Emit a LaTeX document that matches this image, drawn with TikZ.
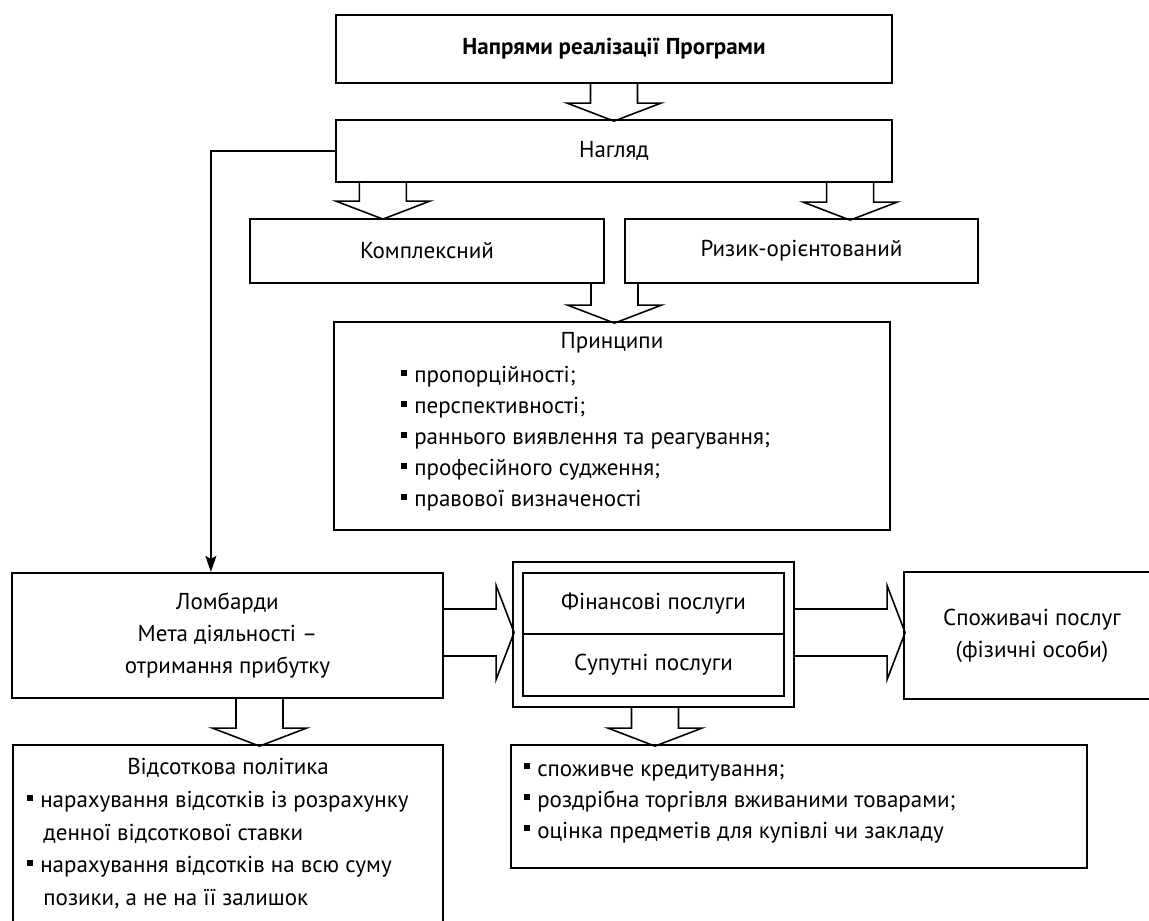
\documentclass[tikz,border=0pt]{standalone}
\usepackage{fontspec}
\setmainfont{PT Sans}
\usepackage{tikz}
\usetikzlibrary{arrows.meta, calc, positioning}

\newcommand{\sq}{\rule[0.3em]{0.26em}{0.26em}\hspace{0.3em}}

\begin{document}
\begin{tikzpicture}[x=0.5pt, y=-0.5pt,
    every node/.style = {font=\fontsize{11.5}{16}\selectfont},
    box/.style = {draw, line width=1.1pt, inner sep=0pt, align=center},
    fat/.style = {draw, line width=0.8pt, line join=miter},
    txt/.style = {inner sep=0pt, align=left},
    conn/.style = {line width=0.7pt, -{Stealth[length=8pt, width=5.5pt, inset=1.5pt]}},
    pics/fatarrow/.style = {code={
        \draw[fat] (0,-23.5) -- (#1-18,-23.5) -- (#1-18,-47) -- (#1,0)
                   -- (#1-18,47) -- (#1-18,23.5) -- (0,23.5);}}]
    \useasboundingbox (0,0) rectangle (1149,920);

    % top of the scheme
    \node[box, minimum width=278pt, minimum height=34pt,
          font=\fontsize{11.5}{16}\selectfont\bfseries] (prog) at (614,49) {Напрями реалізації Програми};
    \node[box, minimum width=278pt, minimum height=31pt] (nagl) at (614,151) {Нагляд};
    \node[box, minimum width=177pt, minimum height=32pt] (kompl) at (427,251) {Комплексний};
    \node[box, minimum width=176.5pt, minimum height=32pt] (ryzyk) at (801.5,251) {Ризик-орієнтований};

    % principles
    \node[box, minimum width=278pt, minimum height=104pt] (princ) at (612,426) {};
    \node (princT) at (612,343) {Принципи};
    \node[txt, anchor=north west, font=\fontsize{11.5}{15.5}\selectfont] (princL) at (401,366)
        {\sq пропорційності;\\ \sq перспективності;\\ \sq раннього виявлення та реагування;\\
         \sq професійного судження;\\ \sq правової визначеності};

    % middle row
    \node[box, minimum width=215.5pt, minimum height=62.5pt] (lomb) at (227.5,635.5)
        {Ломбарди\\ Мета діяльності –\\ отримання прибутку};
    \node[box, minimum width=140.5pt, minimum height=72.5pt] (serv) at (653.5,634.5) {};
    \node[box, minimum width=130.5pt, minimum height=30.5pt] (fin) at (653.5,603.5) {Фінансові послуги};
    \node[box, minimum width=130.5pt, minimum height=31pt] (sup) at (653.5,665) {Супутні послуги};
    \node[box, minimum width=128pt, minimum height=63.5pt] (spoz) at (1032,635.5)
        {Споживачі послуг\\ (фізичні особи)};

    % bottom row
    \node[box, minimum width=215pt, minimum height=92.5pt] (perc) at (228,837.5) {};
    \node (percT) at (228,768) {Відсоткова політика};
    \node[txt, anchor=north west, font=\fontsize{11.5}{16.25}\selectfont] (percL) at (27,791)
        {\sq нарахування відсотків із розрахунку\\ \hspace*{8pt}денної відсоткової ставки\\
         \sq нарахування відсотків на всю суму\\ \hspace*{8pt}позики, а не на її залишок};
    \node[box, minimum width=288pt, minimum height=61.5pt] (list) at (799,806.5) {};
    \node[txt, anchor=north west, font=\fontsize{11.5}{15.5}\selectfont] (listL) at (524,763)
        {\sq споживче кредитування;\\ \sq роздрібна торгівля вживаними товарами;\\
         \sq оцінка предметів для купівлі чи закладу};

    % block arrows
    \pic[rotate=-90] at (prog.south) {fatarrow=37};
    \pic[rotate=-90] at ($(nagl.south west)+(48,0)$) {fatarrow=36};
    \pic[rotate=-90] at ($(nagl.south east)+(-43,0)$) {fatarrow=37};
    \pic[rotate=-90] at ($(kompl.south east)!0.5!(ryzyk.south west)$) {fatarrow=39};
    \pic[rotate=-90] at ($(lomb.south)+(32,0)$) {fatarrow=47};
    \pic at ($(lomb.east)+(0,-3)$) {fatarrow=70};
    \pic[rotate=-90] at ($(serv.south)+(1.5,0)$) {fatarrow=38};
    \pic at ($(serv.east)+(0,-2)$) {fatarrow=110};

    % line to the pawnshops
    \draw[conn] (nagl.west) -| ($(lomb.north west)+(200,0)$);
\end{tikzpicture}
\end{document}
